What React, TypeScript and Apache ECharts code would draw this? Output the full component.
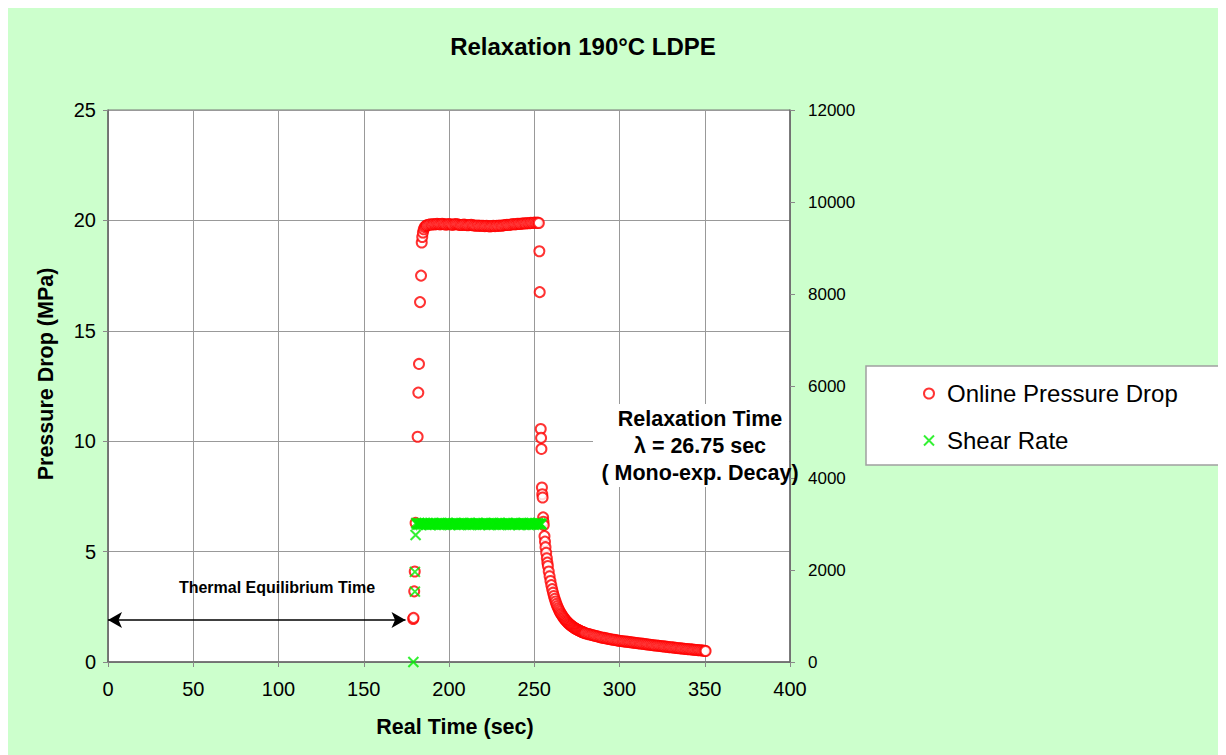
import React, { useEffect, useRef } from "react";
import * as echarts from "echarts";

// Time axis and axis ranges
const timeTicks = { min: 0, max: 400, interval: 50 };
const pressureTicks = { min: 0, max: 25, interval: 5 };
const shearTicks = { min: 0, max: 12000, interval: 2000 };

// Online pressure drop [time (s), MPa]: heating, start-up, steady flow, relaxation
const pressureRise: [number, number][] = [
  [179.0, 1.95], [179.2, 2.0], [179.6, 3.2], [179.9, 4.1], [180.4, 6.3],
  [181.6, 10.2], [182.0, 12.2], [182.4, 13.5], [183.0, 16.3], [183.6, 17.5],
  [184.0, 19.0], [184.3, 19.25], [184.7, 19.45], [185.2, 19.6], [185.8, 19.7],
];

const pressurePlateau: [number, number][] = [
  [186.5, 19.75], [187, 19.78], [188, 19.8], [189, 19.82], [190, 19.81], [191, 19.83],
  [192, 19.82], [193, 19.84], [194, 19.83], [195, 19.82], [196, 19.84], [197, 19.83],
  [198, 19.81], [199, 19.82], [200, 19.83], [201, 19.82], [202, 19.8], [203, 19.82],
  [204, 19.83], [205, 19.82], [206, 19.8], [207, 19.79], [208, 19.8], [209, 19.81],
  [210, 19.79], [211, 19.78], [212, 19.79], [213, 19.8], [214, 19.78], [215, 19.77],
  [216, 19.76], [217, 19.77], [218, 19.75], [219, 19.76], [220, 19.75], [221, 19.74],
  [222, 19.75], [223, 19.74], [224, 19.73], [225, 19.74], [226, 19.75], [227, 19.74],
  [228, 19.76], [229, 19.75], [230, 19.77], [231, 19.76], [232, 19.78], [233, 19.79],
  [234, 19.8], [235, 19.79], [236, 19.81], [237, 19.82], [238, 19.83], [239, 19.82],
  [240, 19.84], [241, 19.85], [242, 19.84], [243, 19.86], [244, 19.87], [245, 19.86],
  [246, 19.88], [247, 19.87], [248, 19.89], [249, 19.88], [250, 19.9], [251, 19.89],
  [252, 19.9], [252.7, 19.88],
];

const pressureDecay: [number, number][] = [
  [253.0, 18.6], [253.2, 16.75], [253.8, 10.55], [254.0, 10.15], [254.2, 9.65],
  [254.5, 7.9], [254.7, 7.6], [254.9, 7.45], [255.2, 6.55], [255.4, 6.35], [255.6, 6.2],
  [256.0, 5.7], [256.3, 5.45], [256.6, 5.2], [257.0, 4.95], [257.4, 4.7], [257.7, 4.5],
  [258.0, 4.35], [258.5, 4.1], [259.0, 3.88], [259.5, 3.67], [260.0, 3.48], [260.5, 3.3],
  [261.0, 3.14], [261.5, 2.99], [262.0, 2.86], [262.5, 2.74], [263.0, 2.63], [263.5, 2.53],
  [264.0, 2.44], [264.5, 2.36], [265.0, 2.28], [265.5, 2.21], [266.0, 2.15], [266.5, 2.09],
  [267.0, 2.03], [267.5, 1.98], [268.0, 1.93], [268.5, 1.88], [269.0, 1.84], [269.5, 1.8],
  [270.0, 1.76], [270.5, 1.72], [271.0, 1.69], [271.5, 1.66], [272.0, 1.63], [272.5, 1.6],
  [273.0, 1.57], [273.5, 1.55], [274.0, 1.52], [274.5, 1.5], [275.0, 1.48], [275.5, 1.46],
  [276.0, 1.44], [276.5, 1.42], [277.0, 1.4], [277.5, 1.38], [278.0, 1.37], [278.5, 1.35],
  [279.0, 1.33], [279.5, 1.32], [280.0, 1.3], [281, 1.28], [282, 1.26], [283, 1.24],
  [284, 1.22], [285, 1.2], [286, 1.18], [287, 1.16], [288, 1.14], [289, 1.12],
  [290, 1.1], [291, 1.09], [292, 1.07], [293, 1.06], [294, 1.04], [295, 1.03],
  [296, 1.01], [297, 1.0], [298, 0.99], [299, 0.97], [300, 0.96], [301, 0.95],
  [302, 0.94], [303, 0.93], [304, 0.92], [305, 0.91], [306, 0.9], [307, 0.89],
  [308, 0.88], [309, 0.87], [310, 0.86], [311, 0.85], [312, 0.84], [313, 0.83],
  [314, 0.82], [315, 0.81], [316, 0.8], [317, 0.79], [318, 0.78], [319, 0.77],
  [320, 0.76], [321, 0.75], [322, 0.745], [323, 0.735], [324, 0.725], [325, 0.715],
  [326, 0.705], [327, 0.695], [328, 0.685], [329, 0.675], [330, 0.67], [331, 0.66],
  [332, 0.65], [333, 0.64], [334, 0.635], [335, 0.625], [336, 0.615], [337, 0.61],
  [338, 0.6], [339, 0.59], [340, 0.585], [341, 0.575], [342, 0.57], [343, 0.56],
  [344, 0.555], [345, 0.545], [346, 0.54], [347, 0.53], [348, 0.525], [349, 0.515],
  [350, 0.51], [350.5, 0.5],
];

// Shear rate [time (s), 1/s]
const shearStart: [number, number][] = [
  [179.1, 0], [180.0, 1530], [180.0, 1960], [180.4, 2760],
];

const shearSteady: [number, number][] = [
  [180.8, 3020], [181.2, 2990], [181.6, 3010], [182.0, 2985], [182.5, 3015], [183.0, 3000],
  [183.5, 2980], [184.0, 3020], [184.5, 3005], [185.0, 2990], [185.5, 3015], [186.0, 3000],
  [186.5, 2985], [187.0, 3010], [187.5, 3020], [188.0, 2995], [188.5, 3000], [189.0, 2980],
  [189.5, 3015], [190.0, 3005], [190.5, 2990], [191.0, 3020], [191.5, 3000], [192.0, 2985],
  [192.5, 3010], [193.0, 3000], [193.5, 2995], [194.0, 3015], [194.5, 2980], [195.0, 3005],
  [195.5, 3020], [196.0, 2990], [196.5, 3000], [197.0, 3010], [197.5, 2985], [198.0, 3015],
  [198.5, 3000], [199.0, 2995], [199.5, 3020], [200.0, 3005], [200.5, 2980], [201.0, 3010],
  [201.5, 3000], [202.0, 2990], [202.5, 3015], [203.0, 3000], [203.5, 2985], [204.0, 3020],
  [204.5, 3005], [205.0, 2995], [205.5, 3010], [206.0, 2980], [206.5, 3000], [207.0, 3015],
  [207.5, 2990], [208.0, 3005], [208.5, 3020], [209.0, 2985], [209.5, 3000], [210.0, 3010],
  [210.5, 2995], [211.0, 3015], [211.5, 3000], [212.0, 2980], [212.5, 3020], [213.0, 3005],
  [213.5, 2990], [214.0, 3010], [214.5, 3000], [215.0, 2985], [215.5, 3015], [216.0, 3000],
  [216.5, 2995], [217.0, 3020], [217.5, 3005], [218.0, 2980], [218.5, 3010], [219.0, 3000],
  [219.5, 2990], [220.0, 3015], [220.5, 3000], [221.0, 2985], [221.5, 3020], [222.0, 3005],
  [222.5, 2995], [223.0, 3010], [223.5, 2980], [224.0, 3000], [224.5, 3015], [225.0, 2990],
  [225.5, 3005], [226.0, 3020], [226.5, 2985], [227.0, 3000], [227.5, 3010], [228.0, 2995],
  [228.5, 3015], [229.0, 3000], [229.5, 2980], [230.0, 3020], [230.5, 3005], [231.0, 2990],
  [231.5, 3010], [232.0, 3000], [232.5, 2985], [233.0, 3015], [233.5, 3000], [234.0, 2995],
  [234.5, 3020], [235.0, 3005], [235.5, 2980], [236.0, 3010], [236.5, 3000], [237.0, 2990],
  [237.5, 3015], [238.0, 3000], [238.5, 2985], [239.0, 3020], [239.5, 3005], [240.0, 2995],
  [240.5, 3010], [241.0, 2980], [241.5, 3000], [242.0, 3015], [242.5, 2990], [243.0, 3005],
  [243.5, 3020], [244.0, 2985], [244.5, 3000], [245.0, 3010], [245.5, 2995], [246.0, 3015],
  [246.5, 3000], [247.0, 2980], [247.5, 3020], [248.0, 3005], [248.5, 2990], [249.0, 3010],
  [249.5, 3000], [250.0, 2985], [250.5, 3015], [251.0, 3000], [251.5, 2995], [252.0, 3020],
  [252.5, 3005], [253.0, 2990], [253.5, 3010], [254.0, 3000], [254.3, 2995],
];

// Arrow span for the thermal equilibrium period [time, MPa]
const equilibriumSpan: [number, number][] = [[0, 1.9], [174.5, 1.9]];

const FONT = "'Liberation Sans', Arial, Helvetica, sans-serif";
const CROSS = "path://M0,0L10,10M10,0L0,10";

export default function App() {
  const ref = useRef<HTMLDivElement>(null);

  useEffect(() => {
    if (!ref.current) return;
    const chart = echarts.init(ref.current, undefined, { renderer: "svg" });

    const axisLine = { show: true, lineStyle: { color: "#666", width: 1.5 } };
    const tick = { show: true, length: 5, lineStyle: { color: "#888" } };

    chart.setOption({
      animation: false,
      backgroundColor: "#ccffcc",
      textStyle: { fontFamily: FONT },
      title: {
        text: "Relaxation 190°C LDPE",
        left: 575,
        top: 26,
        padding: 0,
        textAlign: "center",
        textStyle: { fontFamily: FONT, fontSize: 24, fontWeight: "bold", color: "#000" },
      },
      grid: {
        left: 100,
        top: 102,
        width: 682,
        height: 552,
        show: true,
        backgroundColor: "#fff",
        borderColor: "#777",
        borderWidth: 1,
      },
      legend: {
        orient: "vertical",
        left: 858,
        top: 358,
        padding: [15, 49, 12, 57],
        itemGap: 22,
        itemWidth: 10,
        itemHeight: 10,
        backgroundColor: "#fff",
        borderColor: "#a0a0a0",
        borderWidth: 1.5,
        textStyle: {
          fontFamily: FONT,
          fontSize: 24,
          color: "#000",
          lineHeight: 25,
          padding: [0, 0, 0, 8],
        },
        data: ["Online Pressure Drop", "Shear Rate"],
      },
      xAxis: {
        type: "value",
        ...timeTicks,
        name: "Real Time (sec)",
        nameLocation: "middle",
        nameGap: 54,
        nameTextStyle: {
          fontFamily: FONT,
          fontSize: 21.5,
          fontWeight: "bold",
          color: "#000",
          padding: [0, 0, 0, 12],
        },
        axisLine,
        axisTick: tick,
        axisLabel: { fontFamily: FONT, fontSize: 20, color: "#000", margin: 17 },
        splitLine: { show: true, lineStyle: { color: "#999", width: 1 } },
      },
      yAxis: [
        {
          type: "value",
          ...pressureTicks,
          axisLine,
          axisTick: tick,
          axisLabel: { fontFamily: FONT, fontSize: 20, color: "#000", margin: 12 },
          splitLine: { show: true, lineStyle: { color: "#999", width: 1 } },
        },
        {
          type: "value",
          position: "right",
          ...shearTicks,
          axisLine,
          axisTick: tick,
          axisLabel: {
            fontFamily: FONT,
            fontSize: 17,
            color: "#000",
            margin: 18,
            formatter: (v: number) => String(v),
          },
          splitLine: { show: false },
        },
      ],
      series: [
        {
          name: "Online Pressure Drop",
          type: "scatter",
          yAxisIndex: 0,
          symbol: "emptyCircle",
          symbolSize: 10,
          itemStyle: { color: "#ff0000", borderColor: "#ff0000", borderWidth: 1.9 },
          data: [...pressureRise, ...pressurePlateau, ...pressureDecay],
          markLine: {
            silent: true,
            symbol: ["arrow", "arrow"],
            symbolSize: [12, 14],
            lineStyle: { color: "#000", width: 1.5, type: "solid" },
            label: { show: false },
            data: [[{ coord: equilibriumSpan[0] }, { coord: equilibriumSpan[1] }]],
          },
        },
        {
          name: "Shear Rate",
          type: "scatter",
          yAxisIndex: 1,
          symbol: CROSS,
          symbolSize: 10,
          itemStyle: { color: "#00ee00", borderColor: "#00ee00", borderWidth: 2 },
          data: [...shearStart, ...shearSteady],
        },
      ],
      graphic: [
        {
          type: "text",
          x: 38,
          y: 366,
          rotation: Math.PI / 2,
          style: {
            text: "Pressure Drop (MPa)",
            fontFamily: FONT,
            fontSize: 21.5,
            fontWeight: "bold",
            fill: "#000",
            align: "center",
            verticalAlign: "middle",
          },
        },
        {
          type: "rect",
          z: 1,
          shape: { x: 585, y: 396, width: 196, height: 83 },
          style: { fill: "#fff" },
        },
        {
          type: "text",
          z: 5,
          x: 692,
          y: 438,
          style: {
            text: "Relaxation Time\nλ = 26.75 sec\n( Mono-exp. Decay)",
            fontFamily: FONT,
            fontSize: 21.5,
            fontWeight: "bold",
            lineHeight: 27,
            fill: "#000",
            align: "center",
            verticalAlign: "middle",
          },
        },
        {
          type: "text",
          z: 5,
          x: 269,
          y: 579,
          style: {
            text: "Thermal Equilibrium Time",
            fontFamily: FONT,
            fontSize: 16,
            fontWeight: "bold",
            fill: "#000",
            align: "center",
            verticalAlign: "middle",
          },
        },
      ],
    });

    return () => chart.dispose();
  }, []);

  return <div ref={ref} style={{ width: 1218, height: 747 }} />;
}
